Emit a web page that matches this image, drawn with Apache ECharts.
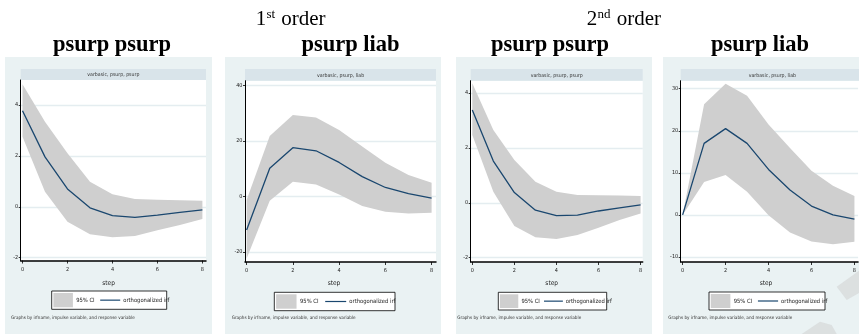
<!DOCTYPE html>
<html>
<head>
<meta charset="utf-8">
<script src="https://cdn.jsdelivr.net/npm/echarts@6/dist/echarts.min.js"></script>
<style>
html, body { margin: 0; padding: 0; background: #ffffff; overflow: hidden; }
#chart { width: 859px; height: 334px; }
</style>
</head>
<body>
<div id="chart"></div>
<script>
// Impulse-response steps and axis tick values
const steps = [0, 1, 2, 3, 4, 5, 6, 7, 8];
const xTicks = [0, 2, 4, 6, 8];

// Column headings
const orderLabels = [['1', 'st', 'order'], ['2', 'nd', 'order']];
const panelTitles = ['psurp psurp', 'psurp liab', 'psurp psurp', 'psurp liab'];
const stripLabels = ['varbasic, psurp, psurp', 'varbasic, psurp, liab', 'varbasic, psurp, psurp', 'varbasic, psurp, liab'];

// 1st order: psurp -> psurp
const irf1 = [3.77, 1.96, 0.70, -0.04, -0.35, -0.42, -0.33, -0.22, -0.12];
const up1  = [4.81, 3.34, 2.10, 0.98, 0.49, 0.31, 0.28, 0.26, 0.24];
const lo1  = [2.75, 0.59, -0.59, -1.08, -1.20, -1.15, -0.92, -0.72, -0.48];
const yTicks1 = [-2, 0, 2, 4];

// 1st order: psurp -> liab
const irf2 = [-12.1, 10.1, 17.5, 16.4, 12.2, 7.1, 3.2, 1.0, -0.6];
const up2  = [-1.3, 21.7, 29.3, 28.4, 23.9, 17.9, 12.1, 7.7, 4.9];
const lo2  = [-22.3, -1.6, 5.3, 4.3, 0.7, -3.5, -5.5, -6.2, -5.9];
const yTicks2 = [-20, 0, 20, 40];

// 2nd order: psurp -> psurp
const irf3 = [3.38, 1.52, 0.37, -0.27, -0.47, -0.45, -0.30, -0.19, -0.08];
const up3  = [4.36, 2.65, 1.56, 0.77, 0.40, 0.28, 0.27, 0.26, 0.25];
const lo3  = [2.47, 0.40, -0.85, -1.26, -1.32, -1.18, -0.91, -0.63, -0.39];
const yTicks3 = [-2, 0, 2, 4];

// 2nd order: psurp -> liab
const irf4 = [0, 17.0, 20.5, 17.0, 10.8, 5.9, 2.1, 0.0, -1.0];
const up4  = [0, 26.3, 31.2, 28.3, 21.5, 15.9, 10.5, 6.9, 4.5];
const lo4  = [0, 7.8, 9.5, 5.5, -0.1, -4.2, -6.3, -7.0, -6.4];
const yTicks4 = [-10, 0, 10, 20, 30];

const ciName = '95% CI';
const irfName = 'orthogonalized irf';
const axisTitle = 'step';
const noteText = 'Graphs by irfname, impulse variable, and response variable';

const seriesSets = [
  { irf: irf1, up: up1, lo: lo1, yTicks: yTicks1 },
  { irf: irf2, up: up2, lo: lo2, yTicks: yTicks2 },
  { irf: irf3, up: up3, lo: lo3, yTicks: yTicks3 },
  { irf: irf4, up: up4, lo: lo4, yTicks: yTicks4 }
];

// Page layout of each panel (pixels) and axis extents
const layouts = [
  { bg: [5, 57, 207, 277], grid: [20.7, 80, 185.3, 180.5], xr: [-0.08, 8.16], yr: [-2.11, 4.98],
    titleX: 112, stepX: 108.6, legend: [51.7, 291, 115, 18.3], noteX: 11 },
  { bg: [225, 57, 216, 277], grid: [245, 80.7, 191, 181.3], xr: [-0.07, 8.19], yr: [-23.6, 41.6],
    titleX: 350.5, stepX: 334, legend: [274.3, 292.3, 120.7, 18.4], noteX: 231.7 },
  { bg: [456, 57, 196, 277], grid: [470.7, 80.7, 172, 181.3], xr: [-0.076, 8.1], yr: [-2.16, 4.45],
    titleX: 550, stepX: 551.7, legend: [498.3, 292.3, 108.4, 17.7], noteX: 457.3 },
  { bg: [663, 57, 200, 277], grid: [680.7, 80.7, 183.3, 181.3], xr: [-0.09, 8.17], yr: [-11.2, 31.9],
    titleX: 760, stepX: 766, legend: [709, 292, 116, 18], noteX: 668.3 }
];

const NAVY = '#1a476f';
const BAND = '#cfcfcf';
const PANEL_BG = '#eaf2f3';
const STRIP_BG = '#d9e4ea';
const GRID_LINE = '#e4edf0';
const SMALL_FONT = '"Liberation Sans Narrow", "DejaVu Sans Condensed", "Liberation Sans", Arial, sans-serif';
const SERIF = '"Liberation Serif", "Times New Roman", serif';

const grids = [], xAxes = [], yAxes = [], series = [], graphics = [];

layouts.forEach((L, i) => {
  const S = seriesSets[i];
  const [gl, gt, gw, gh] = L.grid;

  grids.push({ left: gl, top: gt, width: gw, height: gh, show: false, containLabel: false });

  xAxes.push({
    gridIndex: i, type: 'value', min: L.xr[0], max: L.xr[1],
    axisLine: { show: true, onZero: false, lineStyle: { color: '#000', width: 1.5 } },
    axisTick: { show: true, length: 3, customValues: xTicks, lineStyle: { color: '#000', width: 0.8 } },
    axisLabel: { customValues: xTicks, fontSize: 5.5, margin: 6, color: '#222', fontFamily: SMALL_FONT },
    splitLine: { show: false }
  });

  yAxes.push({
    gridIndex: i, type: 'value', min: L.yr[0], max: L.yr[1],
    axisLine: { show: true, onZero: false, lineStyle: { color: '#000', width: 1 } },
    axisTick: { show: true, length: 2, customValues: S.yTicks, lineStyle: { color: '#000', width: 0.8 } },
    axisLabel: { customValues: S.yTicks, fontSize: 5.5, margin: 2.5, color: '#222', fontFamily: SMALL_FONT },
    splitLine: { show: true, lineStyle: { color: GRID_LINE, width: 1.4 } }
  });

  // confidence band as one polygon through upper then reversed lower bound
  series.push({
    name: ciName, type: 'custom', xAxisIndex: i, yAxisIndex: i,
    data: steps.map((s, k) => [s, S.lo[k], S.up[k]]),
    encode: { x: 0, y: [1, 2] },
    renderItem: (params, api) => {
      if (params.dataIndex !== 0) return null;
      const pts = [];
      steps.forEach((s, k) => pts.push(api.coord([s, S.up[k]])));
      for (let k = steps.length - 1; k >= 0; k--) pts.push(api.coord([steps[k], S.lo[k]]));
      return { type: 'polygon', shape: { points: pts }, style: { fill: BAND, stroke: null } };
    },
    silent: true, z: 2
  });

  series.push({
    name: irfName, type: 'line', xAxisIndex: i, yAxisIndex: i,
    data: steps.map((s, k) => [s, S.irf[k]]),
    symbol: 'none', lineStyle: { color: NAVY, width: 1.3 }, z: 3, silent: true
  });

  // panel background, plot area and strip header
  graphics.push({ type: 'rect', z: -10, shape: { x: L.bg[0], y: L.bg[1], width: L.bg[2], height: L.bg[3] }, style: { fill: PANEL_BG } });
  graphics.push({ type: 'rect', z: -9, shape: { x: gl, y: gt, width: gw, height: gh }, style: { fill: '#ffffff' } });
  graphics.push({ type: 'rect', z: -8, shape: { x: gl, y: 69, width: gw, height: gt - 69 }, style: { fill: STRIP_BG } });
  graphics.push({ type: 'text', z: 5, style: { text: stripLabels[i], x: gl + gw / 2, y: 69 + (gt - 69) / 2 + 0.5,
    textAlign: 'center', textVerticalAlign: 'middle', fontSize: 5.2, fontFamily: SMALL_FONT, fill: '#333' } });

  // panel heading
  graphics.push({ type: 'text', z: 5, style: { text: panelTitles[i], x: L.titleX, y: 45,
    textAlign: 'center', textVerticalAlign: 'middle', font: 'bold 22.5px ' + SERIF, fill: '#000' } });

  // x axis title
  graphics.push({ type: 'text', z: 5, style: { text: axisTitle, x: L.stepX, y: 283,
    textAlign: 'center', textVerticalAlign: 'middle', fontSize: 6.5, fontFamily: SMALL_FONT, fill: '#222' } });

  // legend box
  const [lx, ly, lw, lh] = L.legend;
  const k = lw / 115;
  graphics.push({ type: 'rect', z: 5, shape: { x: lx, y: ly, width: lw, height: lh }, style: { fill: '#fff', stroke: '#000', lineWidth: 0.8 } });
  graphics.push({ type: 'rect', z: 6, shape: { x: lx + 1.7 * k, y: ly + 2, width: 19.5 * k, height: lh - 4 }, style: { fill: BAND } });
  graphics.push({ type: 'text', z: 6, style: { text: ciName, x: lx + 24.5 * k, y: ly + lh / 2,
    textAlign: 'left', textVerticalAlign: 'middle', fontSize: 5.8, fontFamily: SMALL_FONT, fill: '#222' } });
  graphics.push({ type: 'line', z: 6, shape: { x1: lx + 48.5 * k, y1: ly + lh / 2, x2: lx + 68.5 * k, y2: ly + lh / 2 },
    style: { stroke: NAVY, lineWidth: 1.2 } });
  graphics.push({ type: 'text', z: 6, style: { text: irfName, x: lx + 71.5 * k, y: ly + lh / 2,
    textAlign: 'left', textVerticalAlign: 'middle', fontSize: 5.8, fontFamily: SMALL_FONT, fill: '#222' } });

  // by-note
  graphics.push({ type: 'text', z: 5, style: { text: noteText, x: L.noteX, y: 318,
    textAlign: 'left', textVerticalAlign: 'middle', fontSize: 4.6, fontFamily: SMALL_FONT, fill: '#333' } });
});

// column headings with superscript ordinal suffix
const orderPos = [{ x: 255.7 }, { x: 586.7 }];
orderLabels.forEach((parts, j) => {
  const x0 = orderPos[j].x;
  graphics.push({ type: 'text', z: 5, style: { text: parts[0], x: x0, y: 29.5, textAlign: 'left', textVerticalAlign: 'bottom',
    font: '21px ' + SERIF, fill: '#000' } });
  graphics.push({ type: 'text', z: 5, style: { text: parts[1], x: x0 + 10.8, y: 21.3, textAlign: 'left', textVerticalAlign: 'bottom',
    font: '13px ' + SERIF, fill: '#000' } });
  graphics.push({ type: 'text', z: 5, style: { text: parts[2], x: x0 + (j === 0 ? 25.6 : 30), y: 29.5, textAlign: 'left', textVerticalAlign: 'bottom',
    font: '21px ' + SERIF, fill: '#000' } });
});

// faint page marks in the lower right corner
graphics.push({ type: 'polygon', z: 20, shape: { points: [[836.7, 286.7], [859, 270.7], [859, 293], [846.7, 300]] },
  style: { fill: 'rgba(205,205,205,0.5)' } });
graphics.push({ type: 'polygon', z: 20, shape: { points: [[801.7, 334], [820, 321.7], [831.7, 325], [836.7, 334]] },
  style: { fill: 'rgba(205,205,205,0.5)' } });

const chart = echarts.init(document.getElementById('chart'), null, { renderer: 'canvas' });
chart.setOption({
  animation: false,
  backgroundColor: '#ffffff',
  grid: grids,
  xAxis: xAxes,
  yAxis: yAxes,
  series: series,
  graphic: { elements: graphics }
});
</script>
</body>
</html>
